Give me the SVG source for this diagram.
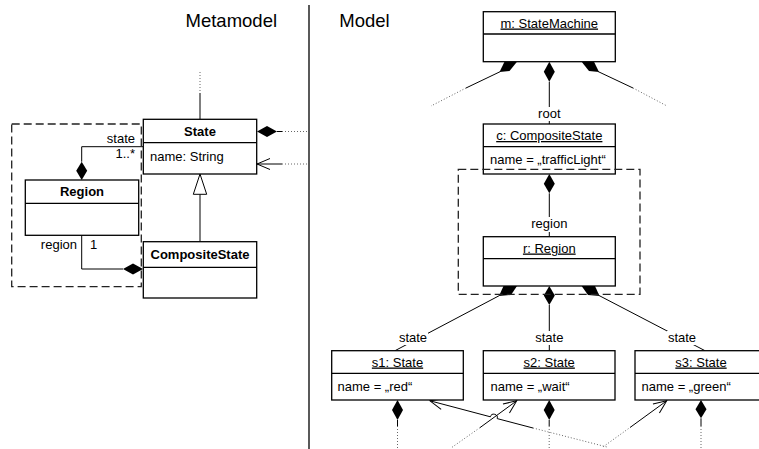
<svg xmlns="http://www.w3.org/2000/svg" width="759" height="449" viewBox="0 0 759 449">
<defs>
<style>
text{font-family:"Liberation Sans",Arial,sans-serif;font-size:13px;fill:#000}
.box{fill:#fff;stroke:#000;stroke-width:1.3}
.dv{stroke:#000;stroke-width:1.3}
.ln{fill:none;stroke:#000;stroke-width:1}
.dot{fill:none;stroke:#666;stroke-width:1;stroke-dasharray:1,2}
.dash{fill:none;stroke:#222;stroke-width:1.3;stroke-dasharray:8,4}
.dia{fill:#000;stroke:none}
.gen{fill:#fff;stroke:#000;stroke-width:1}
.t{text-anchor:middle}
.e{text-anchor:end}
.b{font-weight:bold}
.u{text-decoration:underline}
.h{font-size:18.5px}
.bg{fill:#fff}
</style>
<marker id="open" markerUnits="userSpaceOnUse" markerWidth="16" markerHeight="14" refX="14" refY="7" orient="auto"><path d="M1,1.5 L14,7 L1,12.5" fill="none" stroke="#000" stroke-width="1"/></marker>
</defs>
<rect width="759" height="449" fill="#fff"/>

<g id="headings">
<text class="h t" x="231.3" y="26.7">Metamodel</text>
<text class="h" x="339.3" y="26.7">Model</text>
<line x1="309" y1="5" x2="309" y2="449" stroke="#000" stroke-width="1.3"/>
</g>

<g id="connectors">
<!-- metamodel -->
<line class="dot" x1="200" y1="72" x2="200" y2="93"/>
<line class="ln" x1="200" y1="93" x2="200" y2="119.3"/>
<polyline class="ln" points="143,146.7 81.7,146.7 81.7,161.7"/>
<polygon class="dia" points="81.7,161.7 87.2,170.8 81.7,180 76.2,170.8"/>
<polyline class="ln" points="81.7,235.3 81.7,269 123,269"/>
<polygon class="dia" points="123,269 133,263.5 143,269 133,274.5"/>
<line class="ln" x1="200" y1="194.3" x2="200" y2="241.7"/>
<polygon class="gen" points="200,174 206.7,194.3 193.3,194.3"/>
<polygon class="dia" points="257,131.5 267,126 277,131.5 267,137"/>
<line class="ln" x1="277" y1="131.5" x2="282" y2="131.5"/>
<line class="dot" x1="282" y1="131.5" x2="307" y2="131.5"/>
<path class="ln" d="M282,164 L257,164" marker-end="url(#open)"/>
<line class="dot" x1="282" y1="164" x2="307" y2="164"/>
<text class="e" x="135" y="143">state</text>
<text class="e" x="135" y="158">1..*</text>
<text class="e" x="77" y="249">region</text>
<text x="90" y="249">1</text>

<!-- model: StateMachine -->
<polygon class="dia" points="504.5,61.7 517,61.7 509.5,71 499.5,72"/>
<line class="ln" x1="500.5" y1="71.5" x2="466" y2="88"/>
<line class="dot" x1="466" y1="88" x2="431" y2="106"/>
<polygon class="dia" points="594,61.7 581.6,61.7 589,71 599,72"/>
<line class="ln" x1="598" y1="71.5" x2="633" y2="88"/>
<line class="dot" x1="633" y1="88" x2="667" y2="106"/>
<polygon class="dia" points="549.3,61.7 554.8,71.7 549.3,81.7 543.8,71.7"/>
<line class="ln" x1="549.3" y1="81.7" x2="549.3" y2="124"/>
<rect class="bg" x="536" y="107" width="27" height="14"/>
<text class="t" x="549.3" y="118">root</text>

<!-- composite -> region -->
<polygon class="dia" points="549.3,174 554.8,183.7 549.3,193.3 543.8,183.7"/>
<line class="ln" x1="549.3" y1="193.3" x2="549.3" y2="236.7"/>
<rect class="bg" x="530" y="217" width="39" height="15"/>
<text class="t" x="549.3" y="228">region</text>

<!-- region -> states -->
<polygon class="dia" points="503.5,286 517,286 511,295 499,296"/>
<line class="ln" x1="499.5" y1="295.5" x2="395" y2="350.7"/>
<polygon class="dia" points="549.3,286 554.8,295.5 549.3,305 543.8,295.5"/>
<line class="ln" x1="549.3" y1="305" x2="549.3" y2="350.7"/>
<polygon class="dia" points="595,286 581.6,286 588,295 599.5,296"/>
<line class="ln" x1="599" y1="295.5" x2="705" y2="350.7"/>
<rect class="bg" x="398" y="331" width="30" height="14"/>
<text class="t" x="413" y="342">state</text>
<rect class="bg" x="534.3" y="331" width="30" height="14"/>
<text class="t" x="549.3" y="342">state</text>
<rect class="bg" x="667" y="331" width="30" height="14"/>
<text class="t" x="682" y="342">state</text>

<!-- below states -->
<polygon class="dia" points="397.5,400 403,410 397.5,420 392,410"/>
<line class="ln" x1="397.5" y1="420" x2="397.5" y2="426"/>
<line class="dot" x1="397.5" y1="426" x2="397.5" y2="449"/>
<polygon class="dia" points="549.2,400 554.7,410 549.2,420 543.7,410"/>
<line class="ln" x1="549.2" y1="420" x2="549.2" y2="426"/>
<line class="dot" x1="549.2" y1="426" x2="549.2" y2="449"/>
<polygon class="dia" points="701,400 706.5,409.2 701,418.3 695.5,409.2"/>
<line class="ln" x1="701" y1="418.3" x2="701" y2="426"/>
<line class="dot" x1="701" y1="426" x2="701" y2="449"/>

<path class="ln" d="M533,428 L497.2,418.6 A3.5,3.5 0 0 0 490.4,416.8 L430,400.8" marker-end="url(#open)"/>
<line class="dot" x1="533" y1="428" x2="607" y2="447"/>
<path class="ln" d="M480,427.6 L516.7,400.8" marker-end="url(#open)"/>
<line class="dot" x1="452" y1="447.3" x2="480" y2="427.6"/>
<path class="ln" d="M630,427.5 L666.7,400.8" marker-end="url(#open)"/>
<line class="dot" x1="603.3" y1="446.7" x2="630" y2="427.5"/>
</g>

<g id="State">
<rect class="box" x="143.3" y="119.3" width="113.4" height="54.7"/>
<line class="dv" x1="143.3" y1="142.7" x2="256.7" y2="142.7"/>
<text class="t b" x="200" y="136">State</text>
<text x="150" y="160.5">name: String</text>
</g>
<g id="Region">
<rect class="box" x="25.3" y="180" width="113.4" height="55.3"/>
<line class="dv" x1="25.3" y1="203.3" x2="138.7" y2="203.3"/>
<text class="t b" x="82" y="196">Region</text>
</g>
<g id="CompositeState">
<rect class="box" x="143.3" y="241.7" width="113.4" height="56.3"/>
<line class="dv" x1="143.3" y1="267.3" x2="256.7" y2="267.3"/>
<text class="t b" x="200" y="258.5">CompositeState</text>
</g>

<g id="m">
<rect class="box" x="483.3" y="11.7" width="132" height="50"/>
<line class="dv" x1="483.3" y1="34" x2="615.3" y2="34"/>
<text class="t u" x="549.3" y="27.5">m: StateMachine</text>
</g>
<g id="c">
<rect class="box" x="483.3" y="124" width="132" height="50"/>
<line class="dv" x1="483.3" y1="146.7" x2="615.3" y2="146.7"/>
<text class="t u" x="549.3" y="140">c: CompositeState</text>
<text x="490" y="164">name = „trafficLight“</text>
</g>
<g id="r">
<rect class="box" x="483.3" y="236.7" width="132" height="49.3"/>
<line class="dv" x1="483.3" y1="258.7" x2="615.3" y2="258.7"/>
<text class="t u" x="549.3" y="252.5">r: Region</text>
</g>
<g id="s1">
<rect class="box" x="331.7" y="350.7" width="131.6" height="49.3"/>
<line class="dv" x1="331.7" y1="373.3" x2="463.3" y2="373.3"/>
<text class="t u" x="397.5" y="366.5">s1: State</text>
<text x="337.5" y="391">name = „red“</text>
</g>
<g id="s2">
<rect class="box" x="483.3" y="350.7" width="131.7" height="49.3"/>
<line class="dv" x1="483.3" y1="373.3" x2="615" y2="373.3"/>
<text class="t u" x="549.2" y="366.5">s2: State</text>
<text x="490.5" y="391">name = „wait“</text>
</g>
<g id="s3">
<rect class="box" x="635" y="350.7" width="132" height="49.3"/>
<line class="dv" x1="635" y1="373.3" x2="767" y2="373.3"/>
<text class="t u" x="701" y="366.5">s3: State</text>
<text x="641.5" y="391">name = „green“</text>
</g>

<g id="groupings">
<rect class="dash" x="11.7" y="124" width="129.6" height="162.7"/>
<rect class="dash" x="458.3" y="169.3" width="181.7" height="125"/>
</g>
</svg>
